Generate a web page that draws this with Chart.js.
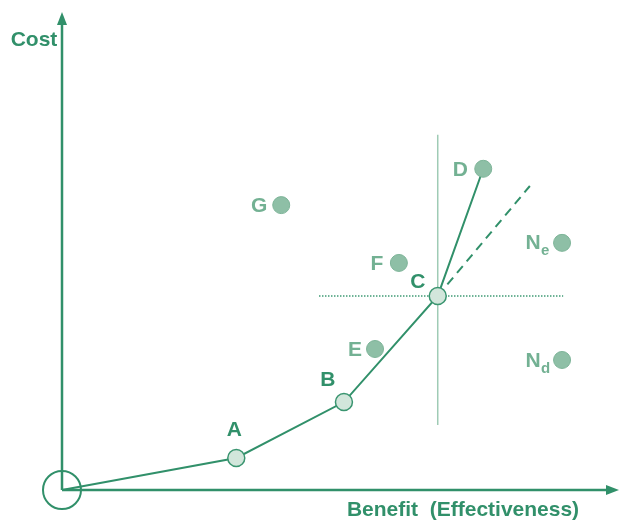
<!DOCTYPE html>
<html>
<head>
<meta charset="utf-8">
<script src="https://cdn.jsdelivr.net/npm/chart.js@4/dist/chart.umd.min.js"></script>
<style>
  html, body { margin: 0; padding: 0; background: #fff; }
  canvas { display: block; }
</style>
</head>
<body>
<canvas id="ceChart" width="619" height="521"></canvas>
<script>
// Benefit / cost values (0..100 on both axes, origin at 0,0)
const frontierNames = ['O', 'A', 'B', 'C', 'D'];
const frontierBenefit = [0, 31.4, 50.8, 67.7, 75.9];
const frontierCost = [0, 6.7, 18.4, 40.6, 67.2];

const otherNames = ['E', 'F', 'G', 'Ne', 'Nd'];
const otherBenefit = [56.4, 60.7, 39.5, 90.1, 90.1];
const otherCost = [29.5, 47.5, 59.6, 51.7, 27.2];

// extension of the A-B-C slope past C
const extBenefit = [67.7, 84.3];
const extCost = [40.6, 63.6];

// cross-hairs through C
const crossVBenefit = [67.7, 67.7];
const crossVCost = [13.6, 74.3];
const crossHBenefit = [46.3, 90.3];
const crossHCost = [40.6, 40.6];

const xTitle = 'Benefit  (Effectiveness)';
const yTitle = 'Cost';

const dark = '#31906a';
const light = '#73b193';

function pts(xs, ys) {
    return xs.map((x, i) => ({ x: x, y: ys[i] }));
}

// label offsets from the point centre, in pixels
const labelOffsets = {
    A: [-2, -28], B: [-16, -22], C: [-20, -14], D: [-23, 1],
    E: [-20, 1], F: [-22, 1], G: [-22, 1], Ne: [-29, 2], Nd: [-29, 3]
};

const overlay = {
    id: 'overlay',
    afterDatasetsDraw(chart) {
        const ctx = chart.ctx;
        const xs = chart.scales.x;
        const ys = chart.scales.y;
        const ox = xs.getPixelForValue(0);
        const oy = ys.getPixelForValue(0);
        const top = ys.getPixelForValue(100);
        const right = xs.getPixelForValue(100);

        ctx.save();
        // axes
        ctx.strokeStyle = dark;
        ctx.fillStyle = dark;
        ctx.lineWidth = 2.5;
        ctx.beginPath();
        ctx.moveTo(ox, oy);
        ctx.lineTo(ox, top + 10);
        ctx.moveTo(ox, oy);
        ctx.lineTo(right - 10, oy);
        ctx.stroke();
        // arrow heads
        ctx.beginPath();
        ctx.moveTo(ox, top);
        ctx.lineTo(ox - 5, top + 13);
        ctx.lineTo(ox + 5, top + 13);
        ctx.closePath();
        ctx.fill();
        ctx.beginPath();
        ctx.moveTo(right + 2, oy);
        ctx.lineTo(right - 11, oy - 5);
        ctx.lineTo(right - 11, oy + 5);
        ctx.closePath();
        ctx.fill();

        // axis titles
        ctx.font = 'bold 21px "Liberation Sans", Arial, sans-serif';
        ctx.textBaseline = 'middle';
        ctx.textAlign = 'center';
        ctx.fillText(yTitle, ox - 28, 40);
        ctx.fillText(xTitle, 463, oy + 20);

        // point labels
        const names = frontierNames.concat(otherNames);
        const bx = frontierBenefit.concat(otherBenefit);
        const cy = frontierCost.concat(otherCost);
        names.forEach((name, i) => {
            const off = labelOffsets[name];
            if (!off) return;
            const px = xs.getPixelForValue(bx[i]) + off[0];
            const py = ys.getPixelForValue(cy[i]) + off[1];
            const isFrontier = ['A', 'B', 'C'].includes(name);
            ctx.fillStyle = isFrontier ? dark : light;
            ctx.font = 'bold 21px "Liberation Sans", Arial, sans-serif';
            if (name.length > 1) {
                ctx.textAlign = 'center';
                ctx.fillText(name[0], px, py - 2);
                ctx.font = 'bold 15px "Liberation Sans", Arial, sans-serif';
                ctx.textAlign = 'left';
                ctx.fillText(name.slice(1), px + 8, py + 6);
            } else {
                ctx.textAlign = 'center';
                ctx.fillText(name, px, py);
            }
        });
        ctx.restore();
    }
};

new Chart(document.getElementById('ceChart'), {
    type: 'scatter',
    data: {
        datasets: [
            {
                // A, B, C on the frontier
                data: pts(frontierBenefit.slice(1, 4), frontierCost.slice(1, 4)),
                pointRadius: 8.5,
                pointBackgroundColor: '#d2e6db',
                pointBorderColor: '#3a9570',
                pointBorderWidth: 1.5,
                showLine: false,
                clip: false,
                order: 1
            },
            {
                // dominated / other options
                data: pts(otherBenefit, otherCost).concat(pts(frontierBenefit.slice(4), frontierCost.slice(4))),
                pointRadius: 8.5,
                pointBackgroundColor: '#8ebfa6',
                pointBorderColor: '#7db498',
                pointBorderWidth: 1,
                showLine: false,
                clip: false,
                order: 2
            },
            {
                // origin circle
                data: pts(frontierBenefit.slice(0, 1), frontierCost.slice(0, 1)),
                pointRadius: 19,
                pointBackgroundColor: 'rgba(0,0,0,0)',
                pointBorderColor: dark,
                pointBorderWidth: 2,
                showLine: false,
                clip: false,
                order: 3
            },
            {
                data: pts(frontierBenefit, frontierCost),
                showLine: true,
                borderColor: dark,
                borderWidth: 2,
                pointRadius: 0,
                clip: false,
                order: 4
            },
            {
                data: pts(extBenefit, extCost),
                showLine: true,
                borderColor: dark,
                borderWidth: 2,
                borderDash: [9, 6],
                pointRadius: 0,
                order: 5
            },
            {
                data: pts(crossVBenefit, crossVCost),
                showLine: true,
                borderColor: '#9fcbb5',
                borderWidth: 1.5,
                pointRadius: 0,
                order: 6
            },
            {
                data: pts(crossHBenefit, crossHCost),
                showLine: true,
                borderColor: '#3f9a74',
                borderWidth: 1.5,
                borderDash: [1.5, 1.5],
                pointRadius: 0,
                order: 7
            }
        ]
    },
    options: {
        responsive: false,
        animation: false,
        layout: { autoPadding: false, padding: { left: 62, right: 2, top: 12, bottom: 31 } },
        plugins: {
            legend: { display: false },
            tooltip: { enabled: false }
        },
        scales: {
            x: { type: 'linear', min: 0, max: 100, display: false },
            y: { type: 'linear', min: 0, max: 100, display: false }
        }
    },
    plugins: [overlay]
});
</script>
</body>
</html>
